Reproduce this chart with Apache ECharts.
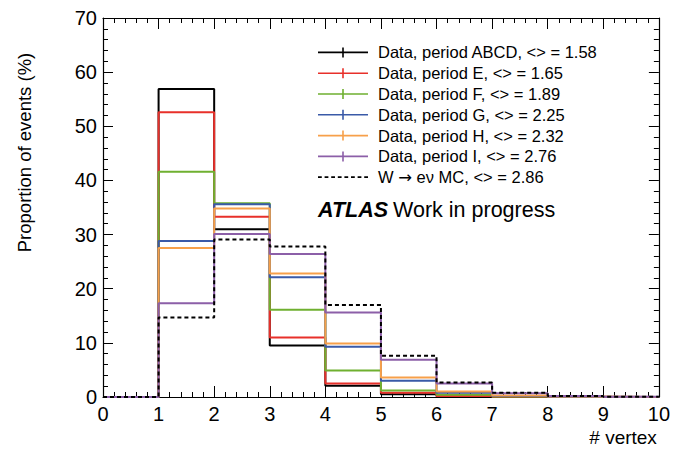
<!DOCTYPE html>
<html>
<head>
<meta charset="utf-8">
<script src="https://cdn.jsdelivr.net/npm/echarts@6/dist/echarts.min.js"></script>
<style>html,body{margin:0;padding:0;background:#fff}#c{width:673px;height:451px}</style>
</head>
<body>
<div id="c"></div>
<script>
// Bin edges (lower edge of each bin)
const binEdges = [0, 1, 2, 3, 4, 5, 6, 7, 8, 9];
const binUpper = 10;
// Proportion of events (%) per bin
const dataABCD = [0, 56.9, 31.0, 9.5, 2.1, 0.5, 0.15, 0.05, 0.02, 0.01];
const dataE    = [0, 52.6, 33.3, 11.0, 2.5, 0.8, 0.2, 0.05, 0.02, 0.01];
const dataF    = [0, 41.6, 35.8, 16.1, 4.9, 1.2, 0.4, 0.1, 0.03, 0.01];
const dataG    = [0, 28.8, 35.6, 22.1, 9.3, 3.0, 0.8, 0.2, 0.05, 0.01];
const dataH    = [0, 27.5, 34.8, 22.8, 9.9, 3.6, 1.0, 0.3, 0.07, 0.02];
const dataI    = [0, 17.3, 30.1, 26.4, 15.6, 6.9, 2.5, 0.7, 0.2, 0.05];
const dataMC   = [0, 14.7, 29.1, 27.8, 17.0, 7.6, 2.7, 0.8, 0.2, 0.05];
const seriesNames = [
  'Data, period ABCD, <> = 1.58',
  'Data, period E, <> = 1.65',
  'Data, period F, <> = 1.89',
  'Data, period G, <> = 2.25',
  'Data, period H, <> = 2.32',
  'Data, period I, <> = 2.76',
  'W \u2192 e\u03bd MC, <> = 2.86'
];
const seriesData = [dataABCD, dataE, dataF, dataG, dataH, dataI, dataMC];
const seriesColors = ['#000000', '#e8302a', '#6fb030', '#3a5aa8', '#f7a04a', '#8c5fa8', '#000000'];

const crossIcon = 'path://M0,4.2h50v1.6h-50z M24.2,0h1.6v10h-1.6z';
let dashIcon = 'path://';
for (let x = 0; x < 50; x += 7) dashIcon += 'M' + x + ',0h4v1.8h-4z ';

function histPoints(vals) {
  const pts = binEdges.map((e, i) => [e, vals[i]]);
  pts.push([binUpper, vals[vals.length - 1]]);
  return pts;
}

const FONT = 'Liberation Sans';
const chart = echarts.init(document.getElementById('c'), null, {renderer: 'svg'});
function mkAxis(extra, tickLen) {
  return Object.assign({
    type: 'value', min: 0,
    axisLine: {show: true, onZero: false, lineStyle: {color: '#000', width: 1.2}},
    splitLine: {show: false},
    axisTick: {show: true, inside: true, length: tickLen, lineStyle: {color: '#000', width: 1}},
    minorTick: {show: true, splitNumber: 5, length: 5, lineStyle: {color: '#000', width: 1}}
  }, extra);
}
chart.setOption({
  animation: false,
  textStyle: {fontFamily: FONT},
  grid: {left: 103, right: 12, top: 18, bottom: 54},
  xAxis: [
    mkAxis({
      max: 10, interval: 1, position: 'bottom',
      axisLabel: {fontSize: 20, color: '#000', margin: 7, fontFamily: FONT},
      name: '# vertex', nameLocation: 'end', nameGap: -2,
      nameTextStyle: {fontSize: 19, color: '#000', align: 'right', verticalAlign: 'top', padding: [31, 0, 0, 0], fontFamily: FONT}
    }, 11),
    mkAxis({max: 10, interval: 1, position: 'top', axisLabel: {show: false}}, 11)
  ],
  yAxis: [
    mkAxis({
      max: 70, interval: 10, position: 'left',
      axisLabel: {fontSize: 20, color: '#000', margin: 6, fontFamily: FONT},
      name: 'Proportion of events (%)', nameLocation: 'middle', nameGap: 69,
      nameTextStyle: {fontSize: 18.5, color: '#000', fontFamily: FONT, padding: [0, 0, 0, 110]}
    }, 10),
    mkAxis({max: 70, interval: 10, position: 'right', axisLabel: {show: false}}, 10)
  ],
  legend: {
    orient: 'vertical', left: 318, top: 42, padding: 0,
    itemWidth: 50, itemHeight: 10, itemGap: 0,
    selectedMode: false,
    formatter: n => n.replace('\u2192', '{arr|\u2192}'),
    textStyle: {fontSize: 16.5, color: '#000', lineHeight: 20.8, fontFamily: FONT, padding: [0, 0, 0, 5],
      rich: {arr: {fontSize: 16.5, fontFamily: 'DejaVu Sans', color: '#000', lineHeight: 20.8}}},
    data: seriesNames.map((n, i) => ({name: n, icon: i === 6 ? dashIcon : crossIcon}))
  },
  title: {
    left: 318, top: 199, padding: 0,
    text: '{a|ATLAS} {b|Work in progress}',
    textStyle: {rich: {
      a: {fontSize: 21.5, fontWeight: 'bold', fontStyle: 'italic', color: '#000', fontFamily: FONT},
      b: {fontSize: 21.5, fontWeight: 'normal', color: '#000', fontFamily: FONT}
    }}
  },
  series: seriesNames.map((n, i) => ({
    name: n, type: 'line', step: 'end',
    xAxisIndex: 0, yAxisIndex: 0,
    data: histPoints(seriesData[i]),
    symbol: 'none', showSymbol: false,
    itemStyle: {color: seriesColors[i]},
    lineStyle: {color: seriesColors[i], width: 2, type: i === 6 ? [4, 3] : 'solid'},
    emphasis: {disabled: true}
  }))
});
</script>
</body>
</html>
